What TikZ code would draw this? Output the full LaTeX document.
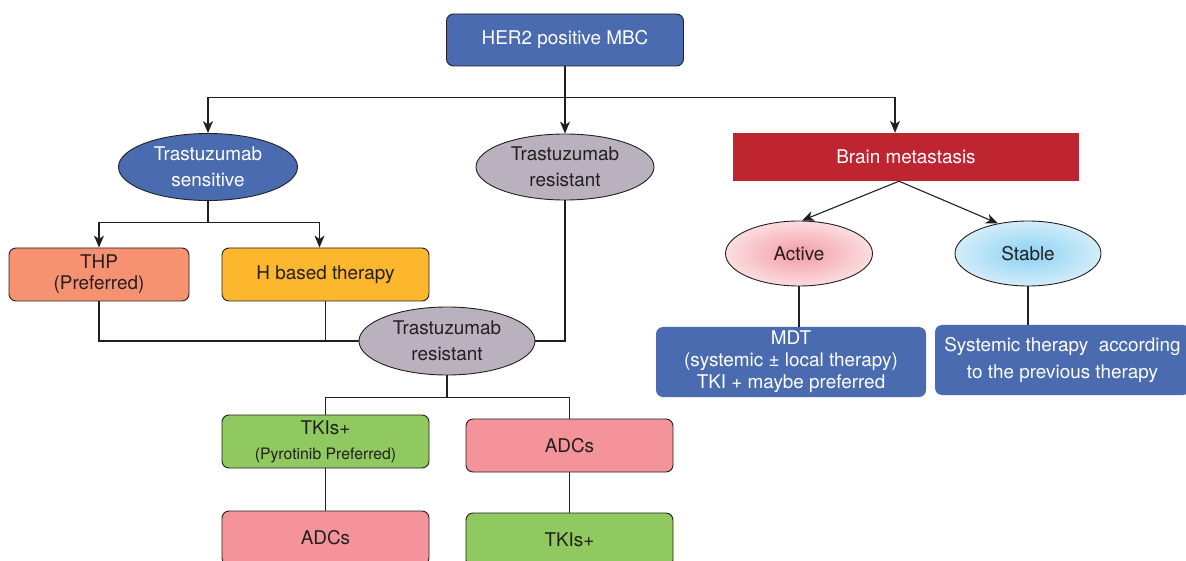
\documentclass[tikz,border=0pt]{standalone}
\usepackage{fontspec}
\setmainfont{TeX Gyre Heros}
\usetikzlibrary{shapes.geometric,arrows.meta,calc}
\definecolor{blueF}{HTML}{4A6BAF}
\definecolor{grayF}{HTML}{B9B1BD}
\definecolor{redF}{HTML}{BE2530}
\definecolor{salmonF}{HTML}{F69272}
\definecolor{orangeF}{HTML}{FDB72F}
\definecolor{greenF}{HTML}{8FC95F}
\definecolor{pinkF}{HTML}{F5939A}
\definecolor{linec}{HTML}{231F20}
\definecolor{actIn}{HTML}{F39BA4}
\definecolor{actOut}{HTML}{FBDDE0}
\definecolor{stbIn}{HTML}{8AD2F3}
\definecolor{stbOut}{HTML}{D3ECF9}
\begin{document}
\begin{tikzpicture}[x=1pt,y=-1pt,
  mfont/.style={font=\fontsize{18.9}{#1}\selectfont},
  box/.style={rectangle, rounded corners=7pt, draw=linec, line width=0.9pt, align=center, inner sep=0pt, text=linec, mfont=22},
  bluebox/.style={box, fill=blueF, draw=none, text=white},
  ell/.style={ellipse, draw=linec, line width=0.9pt, inner sep=0pt, align=center, mfont=26},
  arr/.style={line width=1.1pt, draw=linec, -{Stealth[length=12pt,width=10pt,inset=3.5pt]}},
  conn/.style={line width=1.1pt, draw=linec}]
\useasboundingbox (0,0) rectangle (1186,561);
\clip (0,0) rectangle (1186,561);

\node[bluebox, draw=linec, minimum width=237pt, minimum height=52pt] (her2) at (565,40) {HER2 positive MBC};

\node[ell, fill=blueF, text=white, minimum width=179pt, minimum height=67pt] (ts) at (208,167) {Trastuzumab\\sensitive};
\node[ell, fill=grayF, text=linec, minimum width=178pt, minimum height=66pt] (tr1) at (565,167) {Trastuzumab\\resistant};
\node[rectangle, fill=redF, text=white, mfont=22, minimum width=346pt, minimum height=48pt] (brain) at (906,157) {Brain metastasis};

\node[ell, inner color=actIn, outer color=actOut, text=linec, minimum width=147pt, minimum height=65pt] (active) at (799,253.5) {Active};
\node[ell, inner color=stbIn, outer color=stbOut, text=linec, minimum width=146pt, minimum height=65pt] (stable) at (1028,253.5) {Stable};

\node[bluebox, minimum width=270pt, minimum height=70pt] (mdt) at (791,362) {MDT\\(systemic ± local therapy)\\TKI + maybe preferred};
\node[bluebox, mfont=27, minimum width=255pt, minimum height=70pt] (sys) at (1062.5,360) {Systemic therapy\ \ according\\to the previous therapy};

\node[box, fill=salmonF, mfont=21, minimum width=180pt, minimum height=53pt] (thp) at (99,274.5) {THP\\(Preferred)};
\node[box, fill=orangeF, minimum width=207pt, minimum height=53pt] (hb) at (325.5,274.5) {H based therapy};

\node[ell, fill=grayF, text=linec, minimum width=176pt, minimum height=68pt] (tr2) at (447,341) {Trastuzumab\\resistant};

\node[box, fill=greenF, mfont=25, minimum width=207pt, minimum height=53pt] (tki1) at (325.5,441.5) {TKIs+\\{\fontsize{15.8}{25}\selectfont (Pyrotinib Preferred)}};
\node[box, fill=pinkF, minimum width=207pt, minimum height=53pt] (adc1) at (569.5,445.5) {ADCs};
\node[box, fill=pinkF, minimum width=207pt, minimum height=54pt] (adc2) at (325.5,538) {ADCs};
\node[box, fill=greenF, minimum width=207pt, minimum height=54pt] (tki2) at (569.5,540) {TKIs+};

% connectors
\draw[arr] (her2.south) -- (tr1.north);
\coordinate (j1) at ($(her2.south)!0.46!(tr1.north)$);
\draw[arr] (j1) -| (ts.north);
\draw[arr] (j1) -| ([xshift=-11pt]brain.north);
\draw[arr] ([xshift=-7pt]brain.south) -- ([xshift=3pt]active.north);
\draw[arr] ([xshift=-7pt]brain.south) -- (stable.135);
\draw[conn] (active.south) -- (active.south |- mdt.north);
\draw[conn] (stable.south) -- (stable.south |- sys.north);

\draw[conn] (ts.south) -- ++(0,22) coordinate (j2);
\draw[arr] (j2) -| (thp.north);
\draw[arr] (j2) -| ([xshift=-6pt]hb.north);
\draw[conn] (thp.south) |- (tr2.west);
\draw[conn] (hb.south) -- (hb.south |- tr2.west);
\draw[conn] (tr1.south) |- (tr2.east);

\draw[conn] (tr2.south) -- ++(0,22) coordinate (j3);
\draw[conn] (j3) -| (tki1.north);
\draw[conn] (j3) -| (adc1.north);
\draw[conn] (tki1.south) -- (adc2.north);
\draw[conn] (adc1.south) -- (tki2.north);
\end{tikzpicture}
\end{document}
